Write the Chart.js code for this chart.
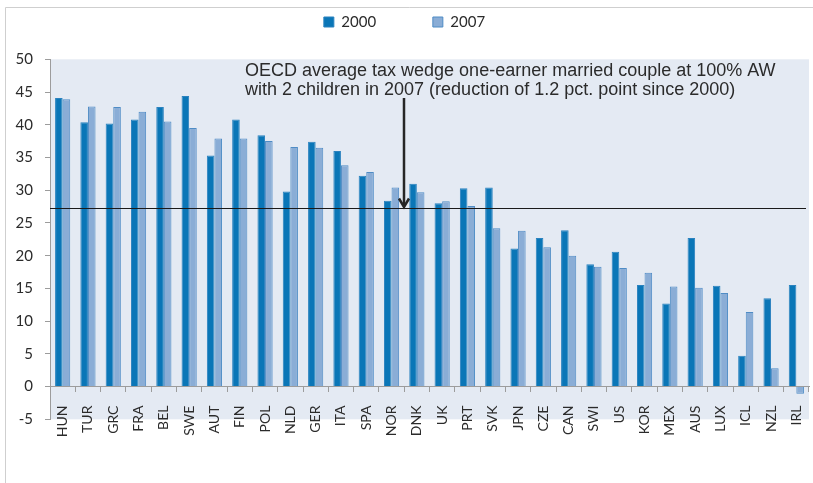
<!DOCTYPE html>
<html>
<head>
<meta charset="utf-8">
<script src="https://cdn.jsdelivr.net/npm/chart.js@4.4.1/dist/chart.umd.min.js"></script>
<style>
  html, body { margin: 0; padding: 0; background: #fff; }
  canvas { display: block; }
</style>
</head>
<body>
<canvas id="wedge" width="813" height="483"></canvas>
<script>
// Countries, in the order shown on the axis
const categories = ['HUN', 'TUR', 'GRC', 'FRA', 'BEL', 'SWE', 'AUT', 'FIN', 'POL', 'NLD',
  'GER', 'ITA', 'SPA', 'NOR', 'DNK', 'UK', 'PRT', 'SVK', 'JPN', 'CZE',
  'CAN', 'SWI', 'US', 'KOR', 'MEX', 'AUS', 'LUX', 'ICL', 'NZL', 'IRL'];

// Tax wedge, % of labour costs
const values2000 = [44.1, 40.4, 40.2, 40.8, 42.7, 44.4, 35.3, 40.8, 38.4, 29.8,
  37.4, 36.0, 32.2, 28.4, 31.0, 28.0, 30.3, 30.4, 21.1, 22.7,
  23.9, 18.7, 20.6, 15.5, 12.7, 22.7, 15.4, 4.7, 13.5, 15.5];
const values2007 = [43.9, 42.8, 42.7, 42.0, 40.5, 39.5, 37.9, 37.9, 37.5, 36.6,
  36.5, 33.8, 32.8, 30.4, 29.7, 28.3, 27.6, 24.2, 23.8, 21.3,
  20.0, 18.3, 18.1, 17.4, 15.3, 15.1, 14.3, 11.4, 2.8, -1.1];

const seriesNames = ['2000', '2007'];
const oecdAverage2007 = 27.3;
const yAxisMin = -5;
const yAxisMax = 50;
const yAxisStep = 5;
const noteLines = [
  'OECD average tax wedge one-earner married couple at 100% AW',
  'with 2 children in 2007 (reduction of 1.2 pct. point since 2000)'
];

const axisGrey = '#9c9c9c';
const textDark = '#2b2b2b';

// Frame, plot background, average line, arrow and note
const decorations = {
  id: 'decorations',
  beforeDraw(chart) {
    const { ctx, chartArea: a } = chart;
    ctx.save();
    ctx.fillStyle = '#ffffff';
    ctx.fillRect(0, 0, chart.width, chart.height);
    ctx.strokeStyle = '#cfcfcf';
    ctx.lineWidth = 1;
    ctx.beginPath();
    ctx.moveTo(5.5, chart.height);
    ctx.lineTo(5.5, 7.5);
    ctx.lineTo(chart.width, 7.5);
    ctx.stroke();
    ctx.fillStyle = '#e4eaf3';
    ctx.fillRect(a.left, a.top, a.right - a.left, a.bottom - a.top);
    ctx.restore();
  },
  afterDatasetsDraw(chart) {
    const { ctx, chartArea: a, scales: { x, y } } = chart;
    const yAvg = Math.round(y.getPixelForValue(oecdAverage2007)) + 0.5;
    const ax = Math.round((x.getPixelForValue(13) + x.getPixelForValue(14)) / 2);
    ctx.save();
    // average line
    ctx.strokeStyle = '#1a1a1a';
    ctx.lineWidth = 1.2;
    ctx.beginPath();
    ctx.moveTo(a.left, yAvg);
    ctx.lineTo(a.right - 3, yAvg);
    ctx.stroke();
    // note text
    ctx.fillStyle = textDark;
    ctx.font = '18px "Liberation Sans", Arial, sans-serif';
    ctx.textAlign = 'left';
    ctx.textBaseline = 'alphabetic';
    const tx = ax - 159;
    ctx.fillText(noteLines[0], tx, 75.5);
    ctx.fillText(noteLines[1], tx, 95);
    // arrow pointing at the average
    ctx.strokeStyle = '#262626';
    ctx.lineWidth = 2.5;
    ctx.beginPath();
    ctx.moveTo(ax, 98);
    ctx.lineTo(ax, yAvg - 2);
    ctx.stroke();
    ctx.beginPath();
    ctx.moveTo(ax - 5, yAvg - 10);
    ctx.lineTo(ax, yAvg - 1.5);
    ctx.lineTo(ax + 5, yAvg - 10);
    ctx.stroke();
    ctx.restore();
  }
};

new Chart(document.getElementById('wedge'), {
  type: 'bar',
  data: {
    labels: categories,
    datasets: [
      {
        label: seriesNames[0],
        data: values2000,
        backgroundColor: '#0a76b7',
        borderColor: '#2a82bf',
        borderWidth: 1,
        categoryPercentage: 0.6,
        barPercentage: 1.0
      },
      {
        label: seriesNames[1],
        data: values2007,
        backgroundColor: '#8aadd6',
        borderColor: '#4f8cc5',
        borderWidth: 1,
        categoryPercentage: 0.6,
        barPercentage: 1.0
      }
    ]
  },
  options: {
    responsive: false,
    animation: false,
    devicePixelRatio: 1,
    layout: { padding: { top: -50, left: 0, right: 4, bottom: 63.7 } },
    plugins: {
      legend: {
        position: 'top',
        weight: 1000,
        labels: {
          boxWidth: 10,
          boxHeight: 10,
          padding: 56.7,
          color: textDark,
          font: { family: 'Lato', size: 15 }
        }
      },
      // empty spacer box between the legend and the plot
      title: {
        display: true,
        text: '',
        weight: 500,
        font: { size: 1, lineHeight: 1 },
        padding: { top: 0, bottom: 18.8 }
      },
      tooltip: { enabled: false }
    },
    scales: {
      x: {
        position: { y: 0 },
        grid: { drawOnChartArea: false, tickLength: 5, color: axisGrey, offset: true },
        border: { color: axisGrey },
        ticks: {
          minRotation: 90,
          maxRotation: 90,
          autoSkip: false,
          padding: 14,
          color: textDark,
          font: { family: 'Lato', size: 14 }
        },
        afterFit(s) { s.paddingLeft = 0; s.paddingRight = 0; }
      },
      y: {
        min: yAxisMin,
        max: yAxisMax,
        grid: { drawOnChartArea: false, tickLength: 5, color: axisGrey },
        border: { color: axisGrey },
        ticks: {
          stepSize: yAxisStep,
          padding: 12,
          color: textDark,
          font: { family: 'Lato', size: 15 }
        },
        afterFit(s) { s.width = 50; s.paddingTop = 59.3; s.paddingBottom = 0; }
      }
    }
  },
  plugins: [decorations]
});
</script>
</body>
</html>
